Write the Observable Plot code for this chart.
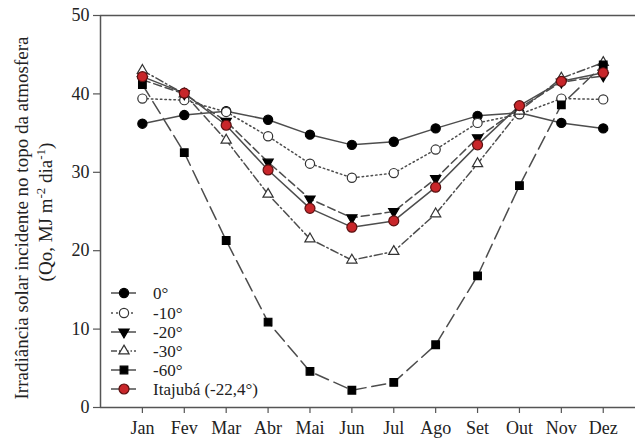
<!DOCTYPE html>
<html>
<head>
<meta charset="utf-8">
<script src="https://cdn.jsdelivr.net/npm/d3@7"></script>
<script src="https://cdn.jsdelivr.net/npm/@observablehq/plot@0.6"></script>
<style>
  html, body { margin: 0; padding: 0; background: #fff; }
</style>
</head>
<body>
<div id="chart"></div>
<script>
const months = ["Jan","Fev","Mar","Abr","Mai","Jun","Jul","Ago","Set","Out","Nov","Dez"];
const yTicks = [0, 10, 20, 30, 40, 50];
const lat0    = [36.2,37.3,37.8,36.7,34.8,33.5,33.9,35.6,37.2,37.6,36.3,35.6];
const lat10   = [39.4,39.2,37.7,34.6,31.1,29.3,29.9,32.9,36.3,37.4,39.4,39.3];
const lat20   = [41.8,40.0,36.5,31.3,26.6,24.2,25.0,29.2,34.4,38.2,41.5,42.3];
const lat30   = [43.0,40.0,34.1,27.2,21.5,18.8,19.9,24.7,31.1,37.8,42.0,44.0];
const lat60   = [41.2,32.5,21.3,10.9,4.6,2.2,3.2,8.0,16.8,28.3,38.6,43.7];
const itajuba = [42.2,40.1,36.0,30.3,25.4,23.0,23.8,28.1,33.5,38.5,41.6,42.7];
const seriesNames = ["0°","-10°","-20°","-30°","-60°","Itajubá (-22,4°)"];

const FONT = "'Liberation Serif', 'Times New Roman', serif";
const lineColor = "#4d4d4d";
const styles = [
  {values: lat0,    dash: null,        legendDash: null,  symbol: "circle",   fill: "#000",    stroke: "#000",    r: 4.6, rotate: 0},
  {values: lat10,   dash: "1.5,3",     legendDash: "2,3", symbol: "circle",   fill: "#fff",    stroke: "#333",    r: 4.6, rotate: 0},
  {values: lat20,   dash: "8,4",       legendDash: null,  symbol: "triangle", fill: "#000",    stroke: "#000",    r: 3.8, rotate: 180},
  {values: lat30,   dash: "8,3,1.5,3", legendDash: "6,2,1.5,2", symbol: "triangle", fill: "#fff", stroke: "#333", r: 3.8, rotate: 0},
  {values: lat60,   dash: "14,6",      legendDash: null,  symbol: "square",   fill: "#000",    stroke: "#000",    r: 4.3, rotate: 0},
  {values: itajuba, dash: null,        legendDash: null,  symbol: "circle",   fill: "#c8262a", stroke: "#5a1010", r: 5.0, rotate: 0}
];

const marks = [];
styles.forEach((s, k) => {
  const data = s.values.map((v, i) => ({i, v, name: seriesNames[k]}));
  marks.push(Plot.line(data, {x: "i", y: "v", stroke: lineColor, strokeWidth: 1.5, strokeDasharray: s.dash}));
});
styles.forEach((s, k) => {
  const data = s.values.map((v, i) => ({i, v, name: seriesNames[k]}));
  marks.push(Plot.dot(data, {x: "i", y: "v", symbol: () => s.symbol, r: s.r, fill: s.fill, stroke: s.stroke, strokeWidth: 1.2, rotate: s.rotate}));
});

const plot = Plot.plot({
  width: 635,
  height: 443,
  marginLeft: 100,
  marginRight: 0,
  marginTop: 15,
  marginBottom: 36,
  style: {fontFamily: FONT, fontSize: "18px", color: "#222", background: "#fff"},
  symbol: {type: "identity"},
  x: {type: "linear", domain: [-1, 11.77], axis: null},
  y: {domain: [0, 50], axis: null},
  marks: [
    Plot.ruleY([0, 50], {stroke: "#555", strokeWidth: 1.5}),
    Plot.ruleX([-1], {stroke: "#555", strokeWidth: 1.5}),
    Plot.axisX(d3.range(12), {tickFormat: i => months[i], tickSize: 6, tickPadding: 8, stroke: "#555", fill: "#222", fontSize: 18, strokeWidth: 1.2, label: null}),
    Plot.axisY(yTicks, {tickSize: 7, tickPadding: 4, stroke: "#555", fill: "#222", fontSize: 18, label: null, strokeWidth: 1.2}),
    ...marks
  ]
});

const svg = d3.select(plot);
// Y-axis title
const yl = svg.append("g").attr("font-family", FONT).attr("font-size", 19).attr("fill", "#222").attr("text-anchor", "middle");
yl.append("text").attr("transform", "translate(28,218) rotate(-90)")
  .text("Irradiância solar incidente no topo da atmosfera");
const t2 = yl.append("text").attr("transform", "translate(52,212) rotate(-90)");
t2.append("tspan").text("(Qo, MJ m");
t2.append("tspan").attr("dy", -7).attr("font-size", 13).text("-2");
t2.append("tspan").attr("dy", 7).text(" dia");
t2.append("tspan").attr("dy", -7).attr("font-size", 13).text("-1");
t2.append("tspan").attr("dy", 7).text(")");

// Legend
const lg = svg.append("g").attr("font-family", FONT).attr("font-size", 17).attr("fill", "#222").attr("text-anchor", "start");
const rowY = [293, 313, 332, 351, 370, 389];
styles.forEach((s, k) => {
  const g = lg.append("g").attr("transform", `translate(0,${rowY[k]})`);
  g.append("line").attr("x1", 111).attr("x2", 136).attr("y1", 0).attr("y2", 0)
    .attr("stroke", lineColor).attr("stroke-width", 1.5).attr("stroke-dasharray", s.legendDash);
  const symType = s.symbol === "circle" ? d3.symbolCircle : s.symbol === "square" ? d3.symbolSquare : d3.symbolTriangle;
  g.append("path").attr("d", d3.symbol(symType, Math.PI * s.r * s.r)())
    .attr("transform", `translate(124,0) rotate(${s.rotate})`)
    .attr("fill", s.fill).attr("stroke", s.stroke).attr("stroke-width", 1.2);
  g.append("text").attr("x", 153).attr("y", 0).attr("dy", "0.35em").text(seriesNames[k]);
});

document.getElementById("chart").appendChild(plot);
</script>
</body>
</html>
